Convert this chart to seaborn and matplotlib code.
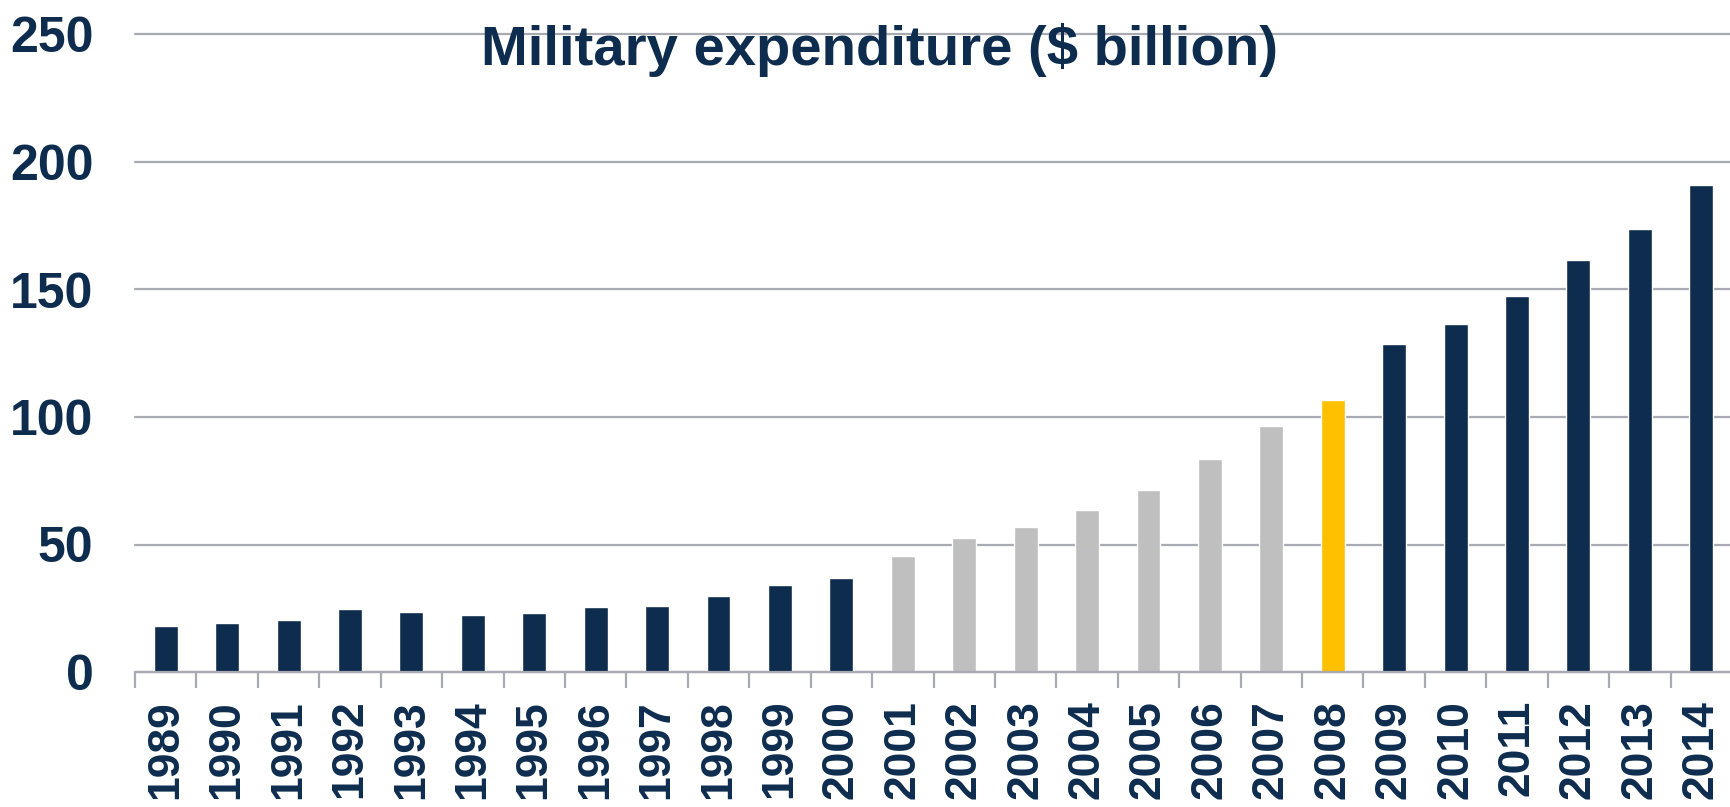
import numpy as np
import pandas as pd
import seaborn as sns
import matplotlib.pyplot as plt

# data
years = [str(y) for y in range(1989, 2015)]
spending = [18.2, 19.3, 20.3, 24.8, 23.4, 22.5, 23.0, 25.6, 26.0, 29.9,
            34.3, 37.0, 45.3, 52.4, 57.0, 63.5, 71.5, 83.7, 96.6, 106.7,
            128.8, 136.3, 147.4, 161.4, 173.9, 190.9]
grey_years = [str(y) for y in range(2001, 2008)]
gold_years = ["2008"]

navy = "#0E2D4E"
grey = "#BFBFBF"
gold = "#FFC000"
grid_col = "#A7AAB0"

palette = {}
for y in years:
    if y in gold_years:
        palette[y] = gold
    elif y in grey_years:
        palette[y] = grey
    else:
        palette[y] = navy

df = pd.DataFrame({"year": years, "spend": spending})

sns.set_style("white")
plt.rcParams["font.family"] = ["Liberation Sans", "DejaVu Sans"]

fig = plt.figure(figsize=(17.3, 8.07), dpi=100)
ax = fig.add_axes([135 / 1730, 1 - 672 / 807, (1732 - 135) / 1730, (672 - 34.5) / 807])

sns.barplot(data=df, x="year", y="spend", hue="year", palette=palette,
            legend=False, width=0.39, saturation=1, ax=ax)

ax.set_xlim(-0.5, len(years) - 0.5)
ax.set_ylim(0, 250)
ax.set_yticks([0, 50, 100, 150, 200, 250])
ax.yaxis.grid(True, color=grid_col, lw=1.6)
for gl in ax.get_ygridlines():
    gl.set_clip_on(False)
ax.set_axisbelow(True)
ax.set_xlabel("")
ax.set_ylabel("")

for s in ["top", "right", "left"]:
    ax.spines[s].set_visible(False)
ax.spines["bottom"].set_color(grid_col)
ax.spines["bottom"].set_linewidth(1.6)

# boundary ticks between the categories
ax.set_xticks(np.arange(-0.5, len(years)), minor=True)
ax.tick_params(axis="x", which="minor", bottom=True, length=11.5, width=1.6,
               color=grid_col, direction="out")
ax.tick_params(axis="x", which="major", bottom=True, length=0, pad=20, labelsize=32,
               labelcolor=navy, labelrotation=90)
ax.tick_params(axis="y", length=0, pad=30, labelsize=36, labelcolor=navy)
for lab in ax.get_xticklabels() + ax.get_yticklabels():
    lab.set_fontweight("bold")

fig.text(879 / 1730, 1 - 65 / 807, "Military expenditure ($ billion)",
         ha="center", va="baseline", fontsize=40.5, fontweight="bold", color=navy)

fig.savefig("out.png", dpi=100)
